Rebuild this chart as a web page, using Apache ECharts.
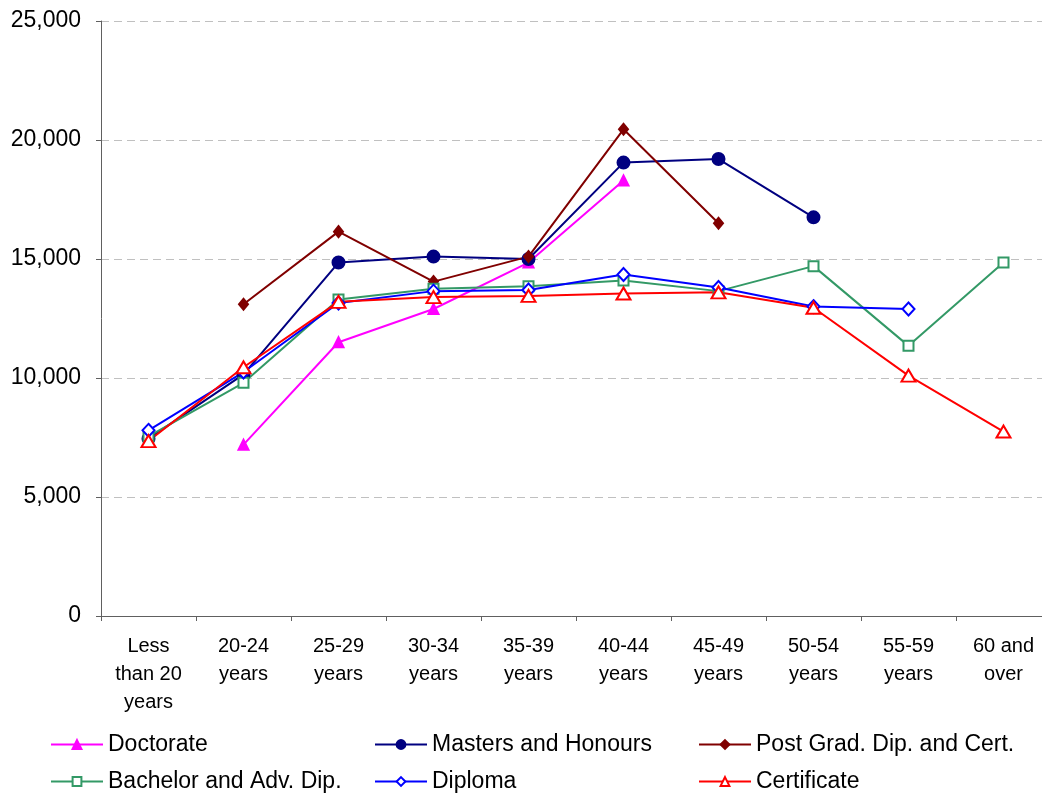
<!DOCTYPE html>
<html>
<head>
<meta charset="utf-8">
<script src="https://cdn.jsdelivr.net/npm/echarts@6/dist/echarts.min.js"></script>
<style>
  html, body { margin: 0; padding: 0; background: #fff; }
  #chart { width: 1042px; height: 794px; }
</style>
</head>
<body>
<div id="chart"></div>
<script>
// Age groups along the horizontal axis
const ageGroups = [
  'Less\nthan 20\nyears', '20-24\nyears', '25-29\nyears', '30-34\nyears',
  '35-39\nyears', '40-44\nyears', '45-49\nyears', '50-54\nyears',
  '55-59\nyears', '60 and\nover'
];

// Values by qualification level (null = no value for that age group)
const doctorate   = [null, 7200, 11500, 12900, 14850, 18300, null, null, null, null];
const masters     = [7450, 10150, 14850, 15100, 15000, 19050, 19200, 16750, null, null];
const postGrad    = [null, 13100, 16150, 14050, 15100, 20450, 16500, null, null, null];
const bachelor    = [7550, 9800, 13300, 13750, 13850, 14100, 13650, 14700, 11350, 14850];
const diploma     = [7800, 10250, 13150, 13650, 13700, 14350, 13800, 13000, 12900, null];
const certificate = [7350, 10450, 13200, 13400, 13450, 13550, 13600, 12950, 10100, 7750];

const seriesNames = [
  'Doctorate', 'Masters and Honours', 'Post Grad. Dip. and Cert.',
  'Bachelor and Adv. Dip.', 'Diploma', 'Certificate'
];

const FONT = '"Liberation Sans", Arial, sans-serif';
const AXIS_COLOR = '#606060';

function lineSeries(name, data, color, symbol, size) {
  return {
    name: name,
    type: 'line',
    data: data,
    connectNulls: false,
    symbol: symbol,
    symbolSize: size,
    showAllSymbol: true,
    lineStyle: { color: color, width: 2 },
    itemStyle: { color: color, borderColor: color, borderWidth: 2 },
    emphasis: { disabled: true },
    animation: false
  };
}

// One legend block per entry, laid out in two rows of three
const legendCols = [50, 374, 698];
const legendRows = [733, 770];
const legends = seriesNames.map((name, i) => ({
  data: [name],
  left: legendCols[i % 3],
  top: legendRows[Math.floor(i / 3)],
  padding: 0,
  itemWidth: 52,
  itemHeight: 11,
  selectedMode: false,
  textStyle: { fontFamily: FONT, fontSize: 23, color: '#000' }
}));

const chart = echarts.init(document.getElementById('chart'), null, { renderer: 'canvas' });
chart.setOption({
  backgroundColor: '#fff',
  animation: false,
  legend: legends,
  grid: { left: 101, top: 21, width: 950, height: 595, containLabel: false, outerBoundsMode: 'none' },
  xAxis: {
    type: 'category',
    data: ageGroups,
    boundaryGap: true,
    axisLine: { lineStyle: { color: AXIS_COLOR, width: 1 } },
    axisTick: { show: true, length: 5, inside: false, lineStyle: { color: AXIS_COLOR } },
    axisLabel: {
      interval: 0,
      margin: 16,
      fontFamily: FONT,
      fontSize: 20,
      lineHeight: 28,
      color: '#000'
    },
    splitLine: { show: false }
  },
  yAxis: {
    type: 'value',
    min: 0,
    max: 25000,
    interval: 5000,
    axisLine: { show: true, lineStyle: { color: AXIS_COLOR, width: 1 } },
    axisTick: { show: true, length: 5, lineStyle: { color: AXIS_COLOR } },
    axisLabel: {
      margin: 20,
      fontFamily: FONT,
      fontSize: 23,
      color: '#000',
      formatter: v => v.toLocaleString('en-US')
    },
    splitLine: { show: true, lineStyle: { color: '#c0c0c0', type: [8, 5], width: 1 } }
  },
  series: [
    lineSeries(seriesNames[0], doctorate, '#FF00FF', 'triangle', 10),
    lineSeries(seriesNames[1], masters, '#000080', 'circle', 12),
    lineSeries(seriesNames[2], postGrad, '#800000', 'diamond', [9, 11]),
    lineSeries(seriesNames[3], bachelor, '#339966', 'emptyRect', 10),
    lineSeries(seriesNames[4], diploma, '#0000FF', 'emptyDiamond', [12, 13]),
    lineSeries(seriesNames[5], certificate, '#FF0000', 'emptyTriangle', [14, 12])
  ]
});
</script>
</body>
</html>
